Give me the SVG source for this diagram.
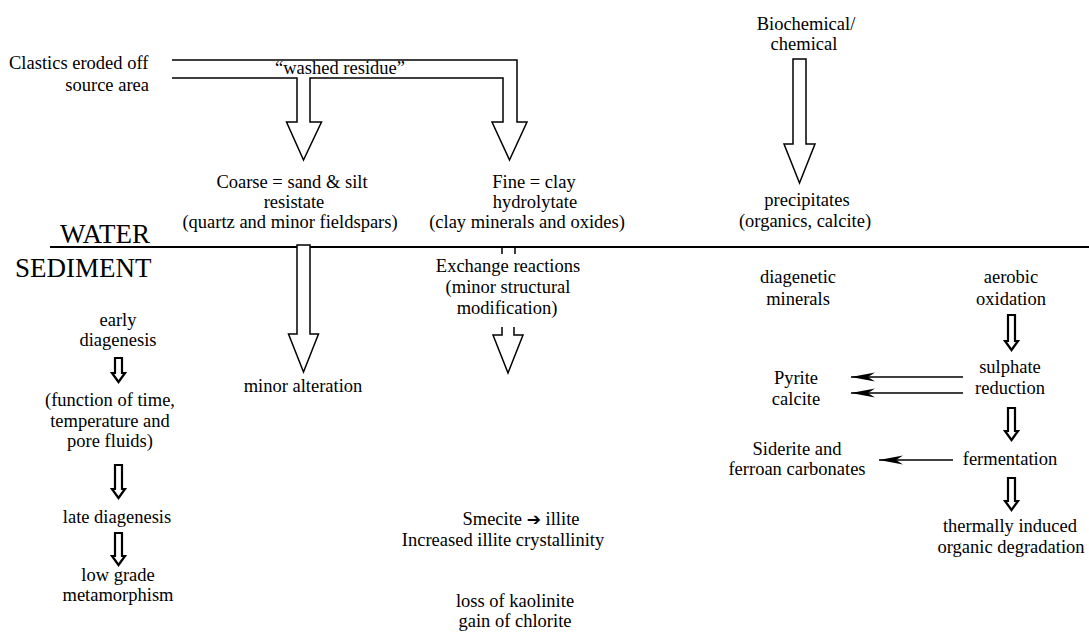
<svg xmlns="http://www.w3.org/2000/svg" width="1089" height="634" viewBox="0 0 1089 634">
<style>
text{font-family:"Liberation Serif","Times New Roman",serif;font-size:18.5px;fill:#000;text-anchor:middle}
.big{font-size:27px;text-anchor:start}
.st{text-anchor:start}
.en{text-anchor:end}
.blk{fill:#fff;stroke:#000;stroke-width:1.5;stroke-linejoin:miter}
.sm{fill:#fff;stroke:#000;stroke-width:2.2;stroke-linejoin:miter}
.ln{fill:none;stroke:#000;stroke-width:1.5}
.ha{stroke:#000;stroke-width:1.4;marker-end:url(#barb)}
</style>
<defs>
<marker id="barb" viewBox="-26 -6 27 12" refX="0" refY="0" markerWidth="27" markerHeight="12" orient="auto" markerUnits="userSpaceOnUse">
<path d="M0,0 L-24,-4.5 L-17,0 L-24,4.5 Z" fill="#000"/>
</marker>
</defs>
<rect width="1089" height="634" fill="#fff"/>

<g id="connectors">
<path class="ln" d="M172,60 H517 V122 H527 L509.5,160 L492,122 H503 V78 H310 V122 H321.5 L303.5,160 L286.5,122 H297 V78 H172"/>
<polygon class="blk" points="793,59 806,59 806,144 815,144 799.5,183 784,144 793,144"/>
<line x1="50" y1="247" x2="1089" y2="247" stroke="#000" stroke-width="2"/>
<polygon class="blk" points="297,245 310,245 310,334 318.5,334 303.5,372 288.5,334 297,334"/>
<path class="ln" d="M502,248 V254 M515,248 V254"/>
<path class="blk" d="M502,327 V335 H493 L508,373 L523,335 H514 V327"/>
<polygon class="sm" points="115,358 122,358 122,373 125,373 118.5,382 112,373 115,373"/>
<polygon class="sm" points="115,465 122,465 122,489 125,489 118.5,498 112,489 115,489"/>
<polygon class="sm" points="115,533 122,533 122,556 125,556 118.5,565 112,556 115,556"/>
<polygon class="sm" points="1008,315 1015,315 1015,341 1018,341 1011.5,350 1005,341 1008,341"/>
<polygon class="sm" points="1008,408 1015,408 1015,431 1018,431 1011.5,440 1005,431 1008,431"/>
<polygon class="sm" points="1008,478 1015,478 1015,501 1018,501 1011.5,510 1005,501 1008,501"/>
<line class="ha" x1="963" y1="377" x2="851" y2="377"/>
<line class="ha" x1="963" y1="393" x2="851" y2="393"/>
<line class="ha" x1="953" y1="460" x2="879" y2="460"/>
</g>

<g id="source"><text class="st" x="9" y="69">Clastics eroded off</text><text class="en" x="149" y="91">source area</text></g>
<g id="washed"><text x="340" y="74">“washed residue”</text></g>
<g id="biochem"><text x="806" y="30">Biochemical/</text><text x="804" y="50">chemical</text></g>
<g id="coarse"><text x="292" y="188">Coarse = sand &amp; silt</text><text x="294" y="208">resistate</text><text x="290" y="228">(quartz and minor fieldspars)</text></g>
<g id="fine"><text x="534" y="188">Fine = clay</text><text x="535" y="208">hydrolytate</text><text x="527" y="228">(clay minerals and oxides)</text></g>
<g id="precip"><text x="807" y="206">precipitates</text><text x="805" y="227">(organics, calcite)</text></g>
<g id="water"><text class="big" x="60" y="243">WATER</text></g>
<g id="sediment"><text class="big" x="15" y="277">SEDIMENT</text></g>
<g id="early"><text x="118" y="326">early</text><text x="118" y="346">diagenesis</text></g>
<g id="function"><text x="110" y="406">(function of time,</text><text x="110" y="427">temperature and</text><text x="110" y="447">pore fluids)</text></g>
<g id="late"><text x="117" y="523">late diagenesis</text></g>
<g id="lowgrade"><text x="118" y="581">low grade</text><text x="118" y="601">metamorphism</text></g>
<g id="minoralt"><text x="303" y="392">minor alteration</text></g>
<g id="exchange"><text x="508" y="272">Exchange reactions</text><text x="508" y="293">(minor structural</text><text x="507" y="314">modification)</text></g>
<g id="smecite"><text x="521" y="525">Smecite <tspan font-family="DejaVu Sans" font-weight="bold" font-size="17">➔</tspan> illite</text><text x="503" y="546">Increased illite crystallinity</text></g>
<g id="kaolinite"><text x="515" y="607">loss of kaolinite</text><text x="515" y="627">gain of chlorite</text></g>
<g id="diagmin"><text x="798" y="283">diagenetic</text><text x="798" y="305">minerals</text></g>
<g id="aerobic"><text x="1011" y="283">aerobic</text><text x="1011" y="305">oxidation</text></g>
<g id="sulphate"><text x="1010" y="373">sulphate</text><text x="1010" y="394">reduction</text></g>
<g id="pyrite"><text x="796" y="384">Pyrite</text><text x="796" y="405">calcite</text></g>
<g id="fermentation"><text x="1010" y="465">fermentation</text></g>
<g id="siderite"><text x="797" y="455">Siderite and</text><text x="797" y="475">ferroan carbonates</text></g>
<g id="thermal"><text x="1010" y="532">thermally induced</text><text x="1011" y="553">organic degradation</text></g>
</svg>
